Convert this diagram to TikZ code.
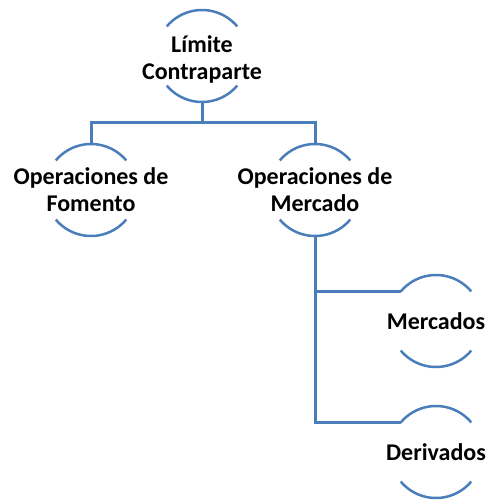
\documentclass[tikz,border=0pt]{standalone}
\usepackage{fontspec}
\setmainfont{Carlito}
\usetikzlibrary{positioning}
\definecolor{arcblue}{RGB}{74,126,187}
\tikzstyle{bubble} = [circle, minimum size=92pt, inner sep=0pt, outer sep=0pt, font=\bfseries\fontsize{24}{27}\selectfont]
\tikzstyle{rim} = [draw=arcblue, line width=2.5pt]
\tikzstyle{link} = [draw=arcblue, line width=3pt]
\newcommand{\bubtext}[2][9pt]{\raisebox{-#1}[0pt][0pt]{\makebox[0pt]{\begin{tabular}{@{}c@{}}#2\end{tabular}}}}

\begin{document}
\begin{tikzpicture}[x=1pt, y=1pt]
    \useasboundingbox (0,0) rectangle (485,-500);
    \node[bubble] (lim) at (202,-56) {\bubtext[11pt]{Límite\\Contraparte}};
    \node[bubble] (fom) at (91,-190) {\bubtext{Operaciones de\\Fomento}};
    \node[bubble] (opm) at (315,-190) {\bubtext{Operaciones de\\Mercado}};
    \node[bubble] (mer) at (436,-321) {\bubtext{Mercados}};
    \node[bubble] (der) at (436,-452) {\bubtext{Derivados}};
    % arcs above and below each label
    \foreach \n in {lim, fom, opm, mer, der} {
        \draw[rim] (\n.40) arc[start angle=40, end angle=140, radius=46pt];
        \draw[rim] (\n.220) arc[start angle=220, end angle=320, radius=46pt];
    }
    \draw[link] (lim.south) -- ++(0,-20) coordinate (bar);
    \draw[link] (bar) -| (fom.north);
    \draw[link] (bar) -| (opm.north);
    \draw[link] (opm.south) |- (mer.140);
    \draw[link] (opm.south) |- (der.140);
\end{tikzpicture}
\end{document}
